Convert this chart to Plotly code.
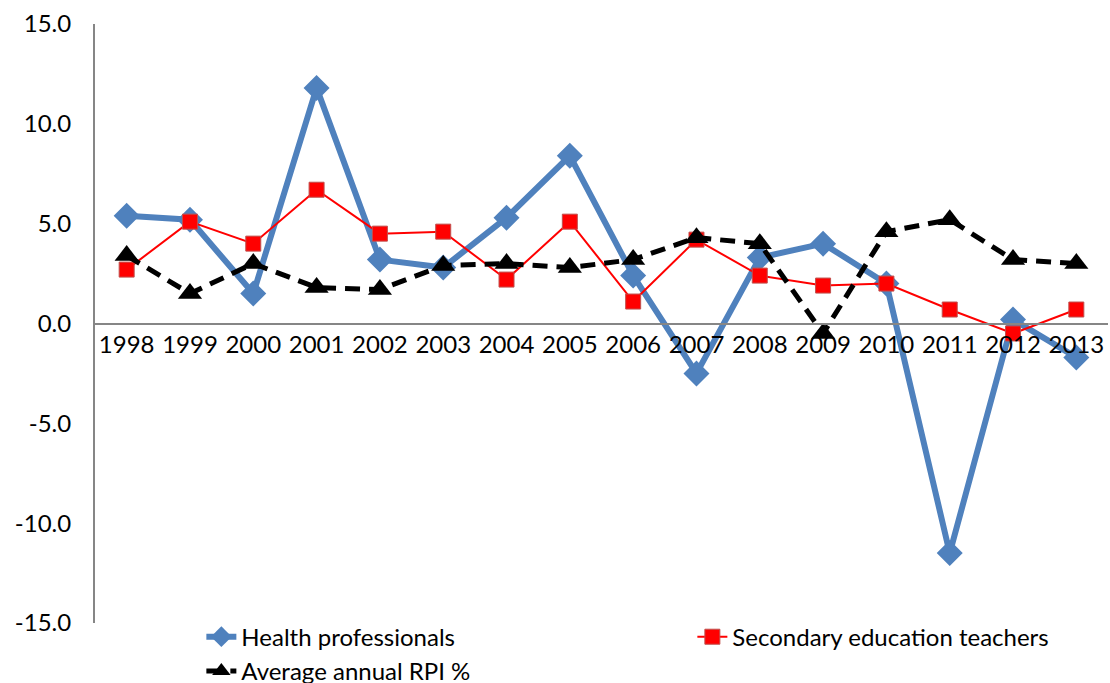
import plotly.graph_objects as go

years = ["1998", "1999", "2000", "2001", "2002", "2003", "2004", "2005",
         "2006", "2007", "2008", "2009", "2010", "2011", "2012", "2013"]
health = [5.4, 5.2, 1.5, 11.8, 3.2, 2.8, 5.3, 8.4,
          2.4, -2.5, 3.3, 4.0, 2.0, -11.5, 0.2, -1.7]
teachers = [2.7, 5.1, 4.0, 6.7, 4.5, 4.6, 2.2, 5.1,
            1.1, 4.2, 2.4, 1.9, 2.0, 0.7, -0.5, 0.7]
rpi = [3.4, 1.5, 3.0, 1.8, 1.7, 2.9, 3.0, 2.8,
       3.2, 4.3, 4.0, -0.5, 4.6, 5.2, 3.2, 3.0]
y_ticks = [-15, -10, -5, 0, 5, 10, 15]

FONT = "Lato"

fig = go.Figure()
fig.add_trace(go.Scatter(
    x=years, y=health, name="Health professionals", mode="lines+markers",
    line=dict(color="#4F81BD", width=6),
    marker=dict(symbol="diamond", size=20, color="#4F81BD"),
))
fig.add_trace(go.Scatter(
    x=years, y=teachers, name="Secondary education teachers", mode="lines+markers",
    line=dict(color="#FF0000", width=2),
    marker=dict(symbol="square", size=15, color="#FF0000",
                line=dict(color="#C0504D", width=1)),
))
fig.add_trace(go.Scatter(
    x=years, y=rpi, name="Average annual RPI %", mode="lines+markers",
    line=dict(color="#000000", width=5, dash="15px,9px"),
    marker=dict(symbol="triangle-up", size=21, color="#000000"),
))

fig.update_layout(
    width=1110, height=683,
    margin=dict(l=95, r=2, t=24, b=60, autoexpand=False),
    plot_bgcolor="white", paper_bgcolor="white",
    font=dict(family=FONT, size=24, color="#000000"),
    showlegend=True,
    legend=dict(
        orientation="h", x=0.105, xanchor="left", y=0.014, yanchor="top",
        entrywidth=446, font=dict(family=FONT, size=24),
        bgcolor="rgba(0,0,0,0)", tracegroupgap=0,
    ),
    xaxis=dict(
        type="category", range=[-0.5, 15.5],
        anchor="free", position=0.5,
        showline=True, linecolor="#868686", linewidth=2,
        showgrid=False, zeroline=False, ticks="",
        tickfont=dict(family=FONT, size=24),
    ),
    yaxis=dict(
        range=[-15, 15], tickvals=y_ticks,
        ticktext=[f"{v:.1f}" for v in y_ticks],
        showline=True, linecolor="#868686", linewidth=2,
        showgrid=False, zeroline=False, ticks="",
        ticklabelstandoff=17,
        tickfont=dict(family=FONT, size=24),
    ),
)

fig.write_html("out.html")
